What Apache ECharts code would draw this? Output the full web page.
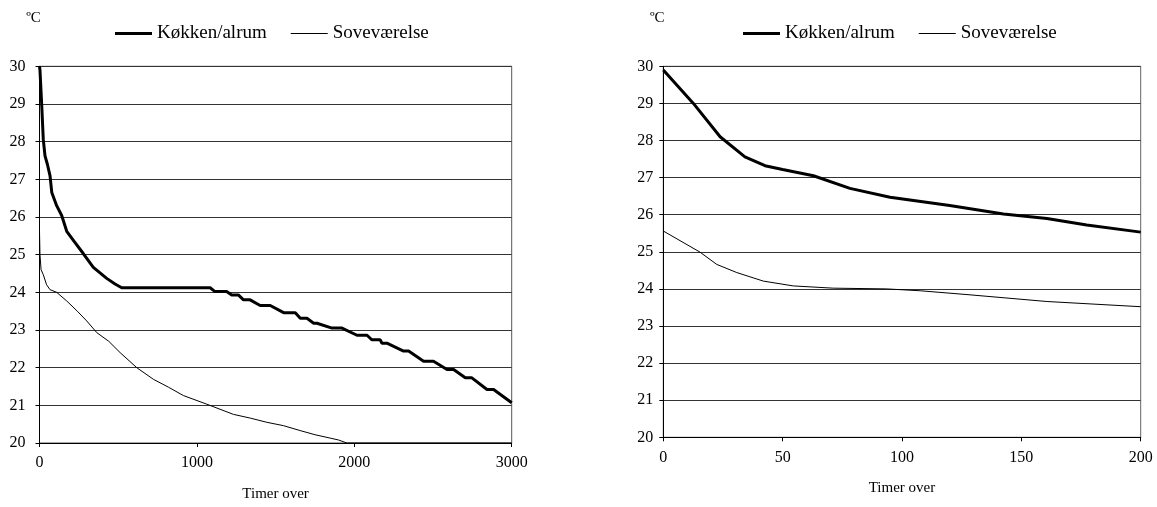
<!DOCTYPE html>
<html>
<head>
<meta charset="utf-8">
<script src="https://cdn.jsdelivr.net/npm/echarts@6/dist/echarts.min.js"></script>
<style>
html,body{margin:0;padding:0;background:#fff;}
#chart{width:1157px;height:507px;}
</style>
</head>
<body>
<div id="chart"></div>
<script>
// ---- Data ----
const seriesNames = ['Køkken/alrum', 'Soveværelse'];
const yTicks = [20, 21, 22, 23, 24, 25, 26, 27, 28, 29, 30];

// Left chart: 0 - 3000 hours
const leftKitchenHours = [0, 3, 14, 24, 35, 50, 67, 78, 109, 141, 173, 220, 278, 342, 427, 480, 522, 700, 1084, 1115, 1189, 1221, 1263, 1296, 1338, 1402, 1466, 1551, 1625, 1657, 1699, 1742, 1763, 1858, 1922, 2017, 2081, 2111, 2165, 2175, 2207, 2313, 2345, 2440, 2503, 2589, 2631, 2705, 2747, 2843, 2885, 3000];
const leftKitchenTemp  = [30.0, 29.9, 28.98, 28.06, 27.62, 27.4, 27.09, 26.65, 26.3, 26.04, 25.62, 25.35, 25.03, 24.66, 24.37, 24.22, 24.12, 24.12, 24.12, 24.02, 24.02, 23.93, 23.93, 23.8, 23.8, 23.65, 23.65, 23.46, 23.46, 23.31, 23.31, 23.18, 23.18, 23.05, 23.05, 22.86, 22.86, 22.74, 22.74, 22.65, 22.65, 22.44, 22.44, 22.17, 22.17, 21.95, 21.95, 21.73, 21.73, 21.42, 21.42, 21.07];

const leftBedroomHours = [0, 3, 10, 24, 45, 67, 109, 173, 240, 300, 364, 440, 512, 618, 724, 820, 914, 1063, 1232, 1340, 1444, 1550, 1656, 1750, 1847, 1900, 1953, 3000];
const leftBedroomTemp  = [25.61, 25.0, 24.6, 24.47, 24.2, 24.07, 24.0, 23.77, 23.5, 23.24, 22.93, 22.7, 22.4, 22.0, 21.69, 21.48, 21.26, 21.03, 20.76, 20.66, 20.55, 20.46, 20.33, 20.22, 20.13, 20.08, 20.0, 20.0];

// Right chart: 0 - 200 hours
const rightKitchenHours = [0, 12.6, 23.8, 34.2, 42.6, 50, 62.9, 78.2, 95, 120, 142.5, 160.7, 177.4, 200];
const rightKitchenTemp  = [29.9, 29.0, 28.1, 27.56, 27.32, 27.22, 27.05, 26.71, 26.47, 26.25, 26.02, 25.9, 25.72, 25.53];

const rightBedroomHours = [0, 15.4, 22.4, 30.8, 41.9, 54.5, 71.2, 93.5, 107.6, 128.5, 160.7, 200];
const rightBedroomTemp  = [25.56, 24.99, 24.66, 24.44, 24.21, 24.08, 24.02, 24.0, 23.95, 23.84, 23.66, 23.52];

const xNameText = 'Timer over';
const yNameText = 'ºC';

// ---- Build ----
function zip(a, b) { return a.map((v, i) => [v, b[i]]); }
const FONT = '"Liberation Serif", "Times New Roman", serif';

function yAxisDef(gridIndex, labelMargin) {
  return {
    type: 'value', gridIndex: gridIndex, min: 20, max: 30, interval: 1,
    name: yNameText, nameLocation: 'end', nameGap: 41,
    nameTextStyle: { fontFamily: FONT, fontSize: 15, color: '#000', padding: [0, 12, 0, 0] },
    axisLine: { show: true, lineStyle: { color: '#000', width: 1 } },
    axisTick: { show: true, length: 4, lineStyle: { color: '#000' } },
    axisLabel: { margin: labelMargin, fontFamily: FONT, fontSize: 16, color: '#000' },
    splitLine: { show: true, lineStyle: { color: '#333', width: 1 } }
  };
}
function xAxisDef(gridIndex, max, interval, nameGap) {
  return {
    type: 'value', gridIndex: gridIndex, min: 0, max: max, interval: interval,
    name: xNameText, nameLocation: 'middle', nameGap: nameGap,
    nameTextStyle: { fontFamily: FONT, fontSize: 15, color: '#000' },
    axisLine: { show: true, onZero: false, lineStyle: { color: '#000', width: 1 } },
    axisTick: { show: true, length: 4, lineStyle: { color: '#000' } },
    axisLabel: { margin: 12, fontFamily: FONT, fontSize: 16, color: '#000', formatter: function (v) { return String(v); } },
    splitLine: { show: false }
  };
}
function lineSeries(name, xi, data, width) {
  return {
    name: name, type: 'line', xAxisIndex: xi, yAxisIndex: xi, data: data,
    showSymbol: false, symbol: 'none', smooth: false,
    lineStyle: { color: '#000', width: width }, itemStyle: { color: '#000' },
    emphasis: { disabled: true }, z: width > 2 ? 3 : 2
  };
}
function legendDef(left) {
  return {
    left: left, top: 19, itemWidth: 37, itemHeight: 14, itemGap: 24,
    textStyle: { fontFamily: FONT, fontSize: 19, color: '#000' },
    data: [
      { name: seriesNames[0], icon: 'path://M0,0L37,0L37,3L0,3Z', itemStyle: { color: '#000' } },
      { name: seriesNames[1], icon: 'path://M0,0L37,0L37,1L0,1Z', itemStyle: { color: '#000' } }
    ],
    selectedMode: false
  };
}

const chart = echarts.init(document.getElementById('chart'), null, { renderer: 'canvas' });
chart.setOption({
  animation: false,
  backgroundColor: '#fff',
  legend: [legendDef(110), legendDef(738)],
  grid: [
    { left: 39.5, right: 645.3, top: 66.3, bottom: 61.3, show: true, borderColor: '#555', borderWidth: 1, backgroundColor: 'transparent' },
    { left: 663.3, right: 16.3, top: 66.3, bottom: 69.7, show: true, borderColor: '#666', borderWidth: 1, backgroundColor: 'transparent' }
  ],
  xAxis: [xAxisDef(0, 3000, 1000, 44), xAxisDef(1, 200, 50, 43)],
  yAxis: [yAxisDef(0, 14), yAxisDef(1, 10)],
  series: [
    lineSeries(seriesNames[0], 0, zip(leftKitchenHours, leftKitchenTemp), 3),
    lineSeries(seriesNames[1], 0, zip(leftBedroomHours, leftBedroomTemp), 1),
    lineSeries(seriesNames[0], 1, zip(rightKitchenHours, rightKitchenTemp), 3),
    lineSeries(seriesNames[1], 1, zip(rightBedroomHours, rightBedroomTemp), 1)
  ]
});
</script>
</body>
</html>
